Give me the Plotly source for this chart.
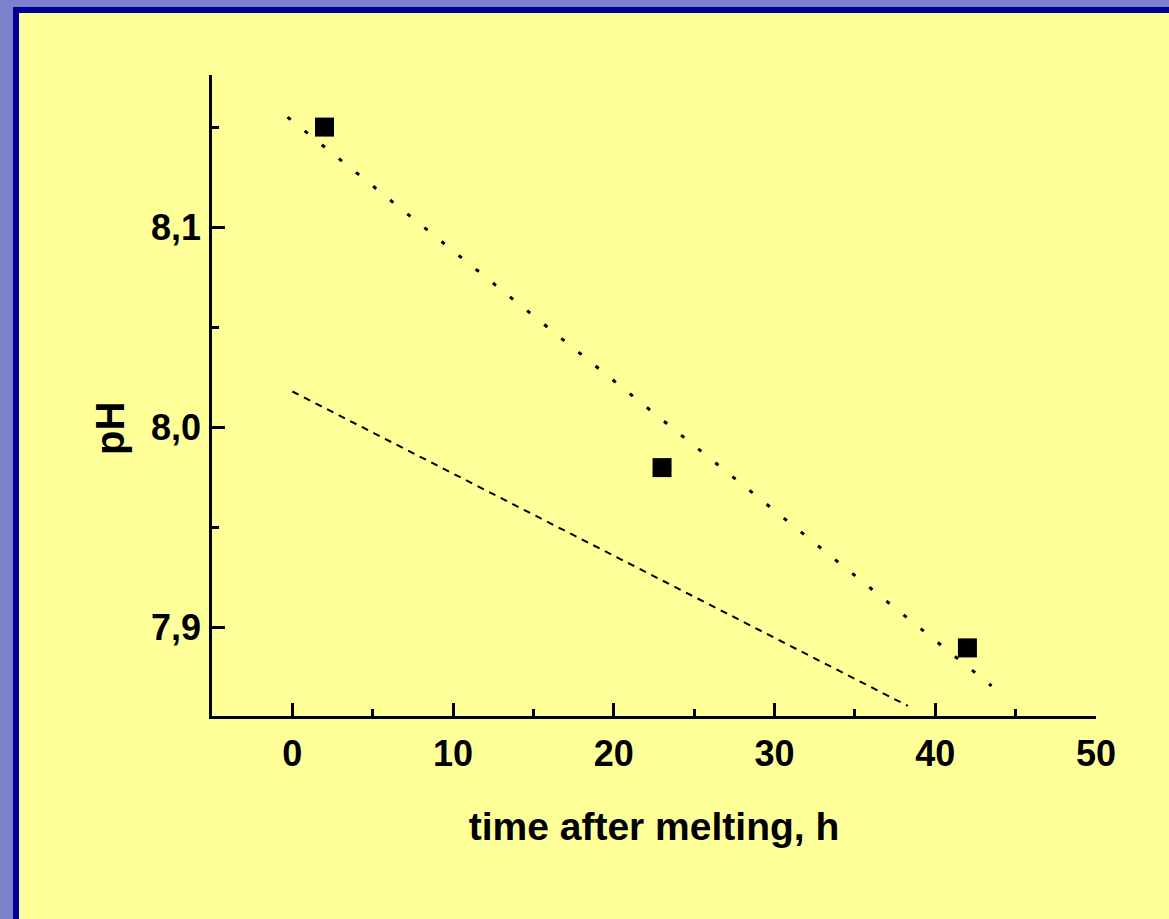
import plotly.graph_objects as go

# Data
time_h = [2, 23, 42]
ph_values = [8.15, 7.98, 7.89]

fit_dotted_x = [-0.3, 43.5]
fit_dotted_y = [8.155, 7.871]

fit_dashed_x = [0.0, 38.3]
fit_dashed_y = [8.018, 7.861]

x_ticks = [0, 10, 20, 30, 40, 50]
y_ticks = [7.9, 8.0, 8.1]
y_tick_labels = ["7,9", "8,0", "8,1"]

W, H = 1169, 919
L, R, T, B = 212, 1096, 75, 716

YELLOW = "#FFFF99"
FONT = "Liberation Sans, Arial, sans-serif"

fig = go.Figure()

fig.add_trace(go.Scatter(
    x=fit_dotted_x, y=fit_dotted_y, mode="lines",
    line=dict(color="black", width=3, dash="4px,18px"),
    showlegend=False, hoverinfo="skip"))
fig.add_trace(go.Scatter(
    x=fit_dashed_x, y=fit_dashed_y, mode="lines",
    line=dict(color="black", width=2, dash="7px,6px"),
    showlegend=False, hoverinfo="skip"))
fig.add_trace(go.Scatter(
    x=time_h, y=ph_values, mode="markers",
    marker=dict(symbol="square", size=19, color="black", line=dict(width=0)),
    showlegend=False))

def px_x(p):
    return (p - L) / (R - L)

def px_y(p):
    return (B - p) / (B - T)

shapes = [
    # light-blue outer frame (left and top)
    dict(type="rect", xref="paper", yref="paper", x0=px_x(0), x1=px_x(13), y0=px_y(H), y1=px_y(0),
         fillcolor="#7d80cc", line=dict(width=0), layer="below"),
    dict(type="rect", xref="paper", yref="paper", x0=px_x(0), x1=px_x(W), y0=px_y(7), y1=px_y(0),
         fillcolor="#7d80cc", line=dict(width=0), layer="below"),
    # dark blue inner border
    dict(type="rect", xref="paper", yref="paper", x0=px_x(13), x1=px_x(19), y0=px_y(H), y1=px_y(7),
         fillcolor="#000099", line=dict(width=0), layer="below"),
    dict(type="rect", xref="paper", yref="paper", x0=px_x(13), x1=px_x(W), y0=px_y(13), y1=px_y(7),
         fillcolor="#000099", line=dict(width=0), layer="below"),
]

fig.update_layout(
    width=W, height=H,
    margin=dict(l=L, r=W - R, t=T, b=H - B, pad=0),
    paper_bgcolor=YELLOW, plot_bgcolor=YELLOW,
    separators=",.",
    shapes=shapes,
    font=dict(family=FONT, color="black"),
)

fig.update_xaxes(
    range=[-5, 50], tickvals=x_ticks, ticks="inside", ticklen=13, tickwidth=2.5,
    tickcolor="black", showline=True, linecolor="black", linewidth=2.5,
    showgrid=False, zeroline=False, automargin=False,
    tickfont=dict(family=FONT, size=36, weight="bold", color="black"),
    ticklabelstandoff=4,
    minor=dict(tickvals=[-5, 5, 15, 25, 35, 45], ticks="inside", ticklen=7, tickwidth=2.5, tickcolor="black"),
    title=dict(text="time after melting, h", standoff=40,
               font=dict(family=FONT, size=39, weight="bold", color="black")),
)

fig.update_yaxes(
    range=[7.856, 8.176], tickvals=y_ticks, ticktext=y_tick_labels,
    ticks="inside", ticklen=13, tickwidth=2.5,
    tickcolor="black", showline=True, linecolor="black", linewidth=2.5,
    showgrid=False, zeroline=False, automargin=False,
    tickfont=dict(family=FONT, size=36, weight="bold", color="black"),
    ticklabelstandoff=1,
    minor=dict(tickvals=[7.95, 8.05, 8.15], ticks="inside", ticklen=7, tickwidth=2.5, tickcolor="black"),
)

fig.add_annotation(
    text="pH", xref="paper", yref="paper", x=px_x(110), y=px_y(429),
    xanchor="center", yanchor="middle", textangle=-90, showarrow=False,
    font=dict(family=FONT, size=40, weight="bold", color="black"))

fig.write_html(
    "out.html",
    config={"displayModeBar": False},
    post_script="document.body.style.margin='0';document.body.style.overflow='hidden';",
)
